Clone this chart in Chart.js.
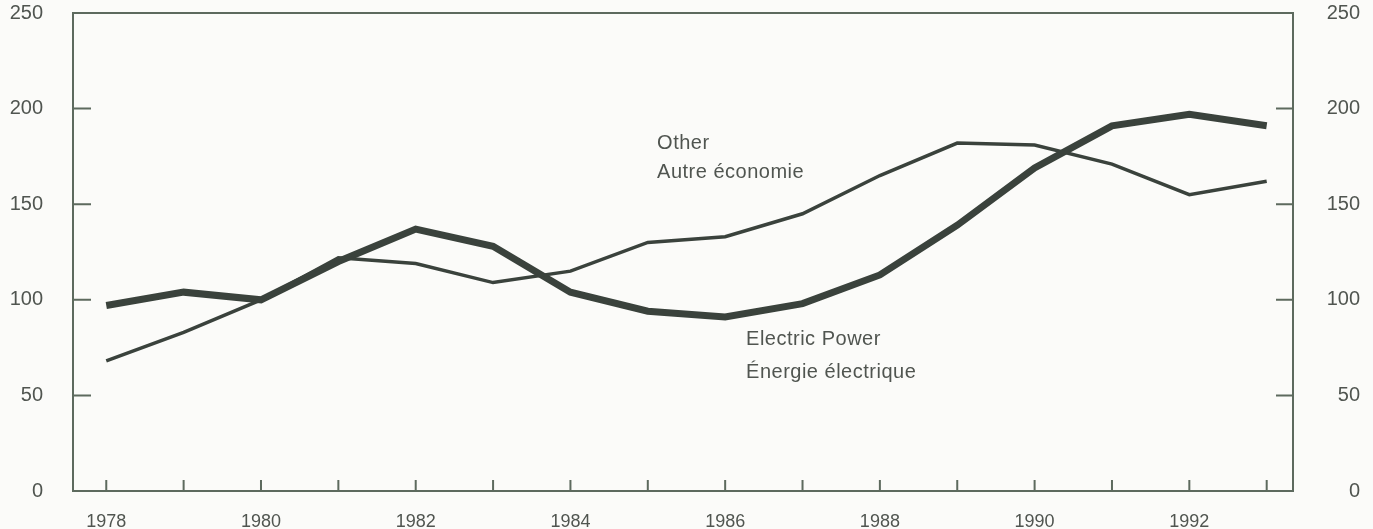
<!DOCTYPE html>
<html>
<head>
<meta charset="utf-8">
<script src="https://cdn.jsdelivr.net/npm/chart.js@4.4.1/dist/chart.umd.min.js"></script>
<style>
  html, body { margin: 0; padding: 0; background: #fbfbf9; }
  #wrap { width: 1373px; height: 529px; }
</style>
</head>
<body>
<div id="wrap"><canvas id="myChart"></canvas></div>
<script>
const years = [1978, 1979, 1980, 1981, 1982, 1983, 1984, 1985, 1986, 1987, 1988, 1989, 1990, 1991, 1992, 1993];
const electricPower = [97, 104, 100, 120, 137, 128, 104, 94, 91, 98, 113, 139, 169, 191, 197, 191];
const otherEconomy = [68, 83, 100, 122, 119, 109, 115, 130, 133, 145, 165, 182, 181, 171, 155, 162];
const yTicks = [0, 50, 100, 150, 200, 250];
const labelYears = [1978, 1980, 1982, 1984, 1986, 1988, 1990, 1992];

const inkLine = "#3a423c";
const axisInk = "#5d6a5e";
const textInk = "#505550";
const fontFamily = "'Liberation Sans', Arial, sans-serif";

// text labels placed in data coordinates
const notes = [
  { text: "Other", x: 1985.12, y: 182 },
  { text: "Autre économie", x: 1985.12, y: 166.5 },
  { text: "Electric Power", x: 1986.27, y: 79 },
  { text: "Énergie électrique", x: 1986.27, y: 62 },
];

const toPoints = (vals) => vals.map((v, i) => ({ x: years[i], y: v }));

const frame = {
  id: "frame",
  afterDraw(chart) {
    const { ctx, chartArea: a, scales } = chart;
    ctx.save();
    ctx.strokeStyle = axisInk;
    ctx.lineWidth = 2;
    ctx.strokeRect(a.left, a.top, a.right - a.left, a.bottom - a.top);
    ctx.beginPath();
    years.forEach((yr) => {
      const px = scales.x.getPixelForValue(yr);
      ctx.moveTo(px, a.bottom);
      ctx.lineTo(px, a.bottom - 11);
    });
    yTicks.slice(1, -1).forEach((v) => {
      const py = scales.y.getPixelForValue(v);
      ctx.moveTo(a.left, py);
      ctx.lineTo(a.left + 18, py);
      ctx.moveTo(a.right, py);
      ctx.lineTo(a.right - 17, py);
    });
    ctx.stroke();
    ctx.fillStyle = textInk;
    ctx.font = "20px " + fontFamily;
    ctx.letterSpacing = "0.5px";
    ctx.textAlign = "left";
    ctx.textBaseline = "middle";
    notes.forEach((n) => {
      ctx.fillText(n.text, scales.x.getPixelForValue(n.x), scales.y.getPixelForValue(n.y));
    });
    ctx.restore();
  },
};

const noVPad = (s) => { s.paddingTop = 0; s.paddingBottom = 0; };

const ctx = document.getElementById("myChart");
new Chart(ctx, {
  type: "line",
  data: {
    datasets: [
      {
        label: "Other / Autre économie",
        data: toPoints(otherEconomy),
        borderColor: inkLine,
        borderWidth: 3.5,
        pointRadius: 0,
        tension: 0,
        yAxisID: "y",
      },
      {
        label: "Electric Power / Énergie électrique",
        data: toPoints(electricPower),
        borderColor: inkLine,
        borderWidth: 7,
        pointRadius: 0,
        tension: 0,
        yAxisID: "y",
      },
    ],
  },
  options: {
    responsive: true,
    maintainAspectRatio: false,
    animation: false,
    layout: { padding: { top: 13, right: 13, left: 0, bottom: 0 } },
    plugins: { legend: { display: false }, tooltip: { enabled: false } },
    scales: {
      x: {
        type: "linear",
        min: 1977.57,
        max: 1993.34,
        afterBuildTicks: (s) => { s.ticks = labelYears.map((v) => ({ value: v })); },
        afterFit: (s) => { s.height = 38; },
        grid: { display: false, drawTicks: false },
        border: { display: false },
        ticks: {
          padding: 20,
          color: textInk,
          font: { family: fontFamily, size: 18 },
          callback: (v) => String(v),
        },
      },
      y: {
        position: "left",
        min: 0,
        max: 250,
        afterBuildTicks: (s) => { s.ticks = yTicks.map((v) => ({ value: v })); },
        afterFit: (s) => { s.width = 73; noVPad(s); },
        grid: { display: false, drawTicks: false },
        border: { display: false },
        ticks: {
          padding: 30,
          color: textInk,
          font: { family: fontFamily, size: 20 },
        },
      },
      y2: {
        position: "right",
        min: 0,
        max: 250,
        afterBuildTicks: (s) => { s.ticks = yTicks.map((v) => ({ value: v })); },
        afterFit: (s) => { s.width = 67; noVPad(s); },
        grid: { display: false, drawTicks: false },
        border: { display: false },
        ticks: {
          crossAlign: "far",
          color: textInk,
          font: { family: fontFamily, size: 20 },
        },
      },
    },
  },
  plugins: [frame],
});
</script>
</body>
</html>
